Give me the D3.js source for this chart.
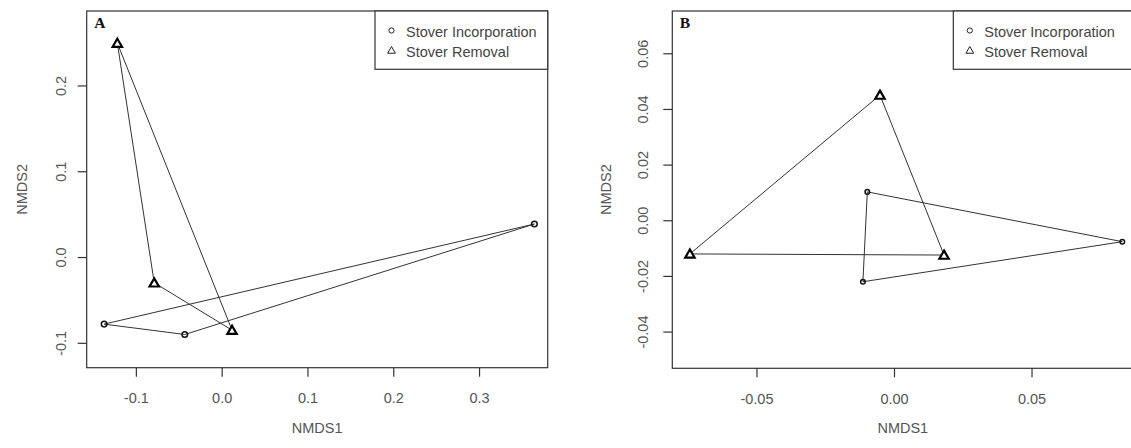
<!DOCTYPE html>
<html>
<head>
<meta charset="utf-8">
<script src="https://cdn.jsdelivr.net/npm/d3@7"></script>
<style>
  html, body { margin: 0; padding: 0; background: #fff; }
  svg { display: block; }
  text { font-family: "Liberation Sans", Arial, sans-serif; }
  text.letter { font-family: "Liberation Serif", "Times New Roman", serif; font-weight: bold; }
</style>
</head>
<body>
<svg id="chart" width="1131" height="448"></svg>
<script>
// ---- data ----
const seriesNames = ["Stover Incorporation", "Stover Removal"];

// Panel A
const aIncX = [-0.137, -0.043, 0.3645];
const aIncY = [-0.0782, -0.0903, 0.0385];
const aRemX = [-0.1216, -0.0786, 0.0121];
const aRemY = [0.2494, -0.030, -0.0852];
const aXTicks = [-0.1, 0.0, 0.1, 0.2, 0.3];
const aXLabels = ["-0.1", "0.0", "0.1", "0.2", "0.3"];
const aYTicks = [-0.1, 0.0, 0.1, 0.2];
const aYLabels = ["-0.1", "0.0", "0.1", "0.2"];

// Panel B
const bIncX = [-0.0097, 0.0830, -0.0113];
const bIncY = [0.0102, -0.0077, -0.0221];
const bRemX = [-0.0742, -0.0051, 0.0182];
const bRemY = [-0.0121, 0.0450, -0.0125];
const bXTicks = [-0.05, 0.0, 0.05];
const bXLabels = ["-0.05", "0.00", "0.05"];
const bYTicks = [-0.04, -0.02, 0.0, 0.02, 0.04, 0.06];
const bYLabels = ["-0.04", "-0.02", "0.00", "0.02", "0.04", "0.06"];

const xTitle = "NMDS1", yTitle = "NMDS2";

// ---- drawing ----
const svg = d3.select("#chart");
const ink = "#333";
const textCol = "#555";
const fontSize = 14.5;

function panel(cfg) {
  const g = svg.append("g");
  const x = d3.scaleLinear().domain(cfg.xDomain).range([cfg.left, cfg.right]);
  const y = d3.scaleLinear().domain(cfg.yDomain).range([cfg.bottom, cfg.top]);

  // box
  g.append("rect")
    .attr("x", cfg.left).attr("y", cfg.top)
    .attr("width", cfg.right - cfg.left).attr("height", cfg.bottom - cfg.top)
    .attr("fill", "none").attr("stroke", ink).attr("stroke-width", 1.2);

  // x axis
  const xa = g.append("g").attr("transform", `translate(0,${cfg.bottom})`)
    .call(d3.axisBottom(x).tickValues(cfg.xTicks)
      .tickFormat((d, i) => cfg.xLabels[i]).tickSize(9).tickSizeOuter(0).tickPadding(16));
  xa.select(".domain").remove();
  xa.selectAll(".tick line").attr("stroke", ink).attr("stroke-width", 1.2);
  xa.selectAll(".tick text").attr("fill", textCol).attr("font-size", fontSize);

  // y axis
  const ya = g.append("g").attr("transform", `translate(${cfg.left},0)`)
    .call(d3.axisLeft(y).tickValues(cfg.yTicks)
      .tickFormat((d, i) => cfg.yLabels[i]).tickSize(9).tickSizeOuter(0));
  ya.select(".domain").remove();
  ya.selectAll(".tick line").attr("stroke", ink).attr("stroke-width", 1.2);
  ya.selectAll(".tick text")
    .attr("x", null).attr("dy", null).attr("y", null)
    .attr("transform", `translate(${-cfg.yLabelOff},0) rotate(-90)`)
    .attr("text-anchor", "middle").attr("dominant-baseline", "central")
    .attr("fill", textCol).attr("font-size", fontSize);

  // titles
  g.append("text").attr("x", (cfg.left + cfg.right) / 2).attr("y", 428)
    .attr("text-anchor", "middle").attr("dominant-baseline", "central")
    .attr("fill", textCol).attr("font-size", fontSize).text(xTitle);
  g.append("text")
    .attr("transform", `translate(${cfg.yTitleX},${(cfg.top + cfg.bottom) / 2}) rotate(-90)`)
    .attr("text-anchor", "middle").attr("dominant-baseline", "central")
    .attr("fill", textCol).attr("font-size", fontSize).text(yTitle);

  // panel letter
  g.append("text").attr("class", "letter").attr("x", cfg.left + cfg.letterDx).attr("y", 28)
    .attr("font-size", 15.5).attr("fill", "#111")
    .text(cfg.letter);

  // hulls
  const line = d3.line().x(d => x(d[0])).y(d => y(d[1])).curve(d3.curveLinearClosed);
  const inc = cfg.incX.map((v, i) => [v, cfg.incY[i]]);
  const rem = cfg.remX.map((v, i) => [v, cfg.remY[i]]);
  g.append("path").attr("d", line(rem)).attr("fill", "none").attr("stroke", ink).attr("stroke-width", 1);
  g.append("path").attr("d", line(inc)).attr("fill", "none").attr("stroke", ink).attr("stroke-width", 1);

  // points
  g.selectAll(".inc").data(inc).enter().append("circle")
    .attr("cx", d => x(d[0])).attr("cy", d => y(d[1])).attr("r", cfg.circR)
    .attr("fill", "none").attr("stroke", "#111").attr("stroke-width", 1.5);
  const tri = d3.symbol().type(d3.symbolTriangle).size(38);
  g.selectAll(".rem").data(rem).enter().append("path")
    .attr("d", tri)
    .attr("transform", d => `translate(${x(d[0])},${y(d[1]) + 1})`)
    .attr("fill", "#fff").attr("stroke", "#000").attr("stroke-width", 2.2);

  // legend
  const lg = g.append("g");
  lg.append("rect").attr("x", cfg.legLeft).attr("y", cfg.top)
    .attr("width", cfg.right - cfg.legLeft).attr("height", 58.3)
    .attr("fill", "#fff").attr("stroke", ink).attr("stroke-width", 1.2);
  const symX = cfg.legLeft + 16.5;
  const txtX = cfg.legLeft + 31;
  lg.append("circle").attr("cx", symX).attr("cy", 30.5).attr("r", 2.6)
    .attr("fill", "none").attr("stroke", "#222").attr("stroke-width", 1);
  lg.append("path").attr("d", d3.symbol().type(d3.symbolTriangle).size(26))
    .attr("transform", `translate(${symX},${51})`)
    .attr("fill", "none").attr("stroke", "#222").attr("stroke-width", 1);
  seriesNames.forEach((s, i) => {
    lg.append("text").attr("x", txtX).attr("y", 31.7 + i * 20)
      .attr("dominant-baseline", "central").attr("fill", "#444")
      .attr("font-size", fontSize).text(s);
  });
}

panel({
  left: 86.7, right: 547.7, top: 11, bottom: 367.7,
  xDomain: [-0.1573, 0.3800], yDomain: [-0.129, 0.2868],
  xTicks: aXTicks, xLabels: aXLabels, yTicks: aYTicks, yLabels: aYLabels,
  yLabelOff: 26, yTitleX: 21.5, letter: "A", letterDx: 7.5,
  incX: aIncX, incY: aIncY, remX: aRemX, remY: aRemY, circR: 2.8,
  legLeft: 375
});

panel({
  left: 672.3, right: 1133.3, top: 11, bottom: 368.3,
  xDomain: [-0.0806, 0.087], yDomain: [-0.0532, 0.0752],
  xTicks: bXTicks, xLabels: bXLabels, yTicks: bYTicks, yLabels: bYLabels,
  yLabelOff: 29, yTitleX: 605.5, letter: "B", letterDx: 7.5,
  incX: bIncX, incY: bIncY, remX: bRemX, remY: bRemY, circR: 2.3,
  legLeft: 953.3
});
</script>
</body>
</html>
